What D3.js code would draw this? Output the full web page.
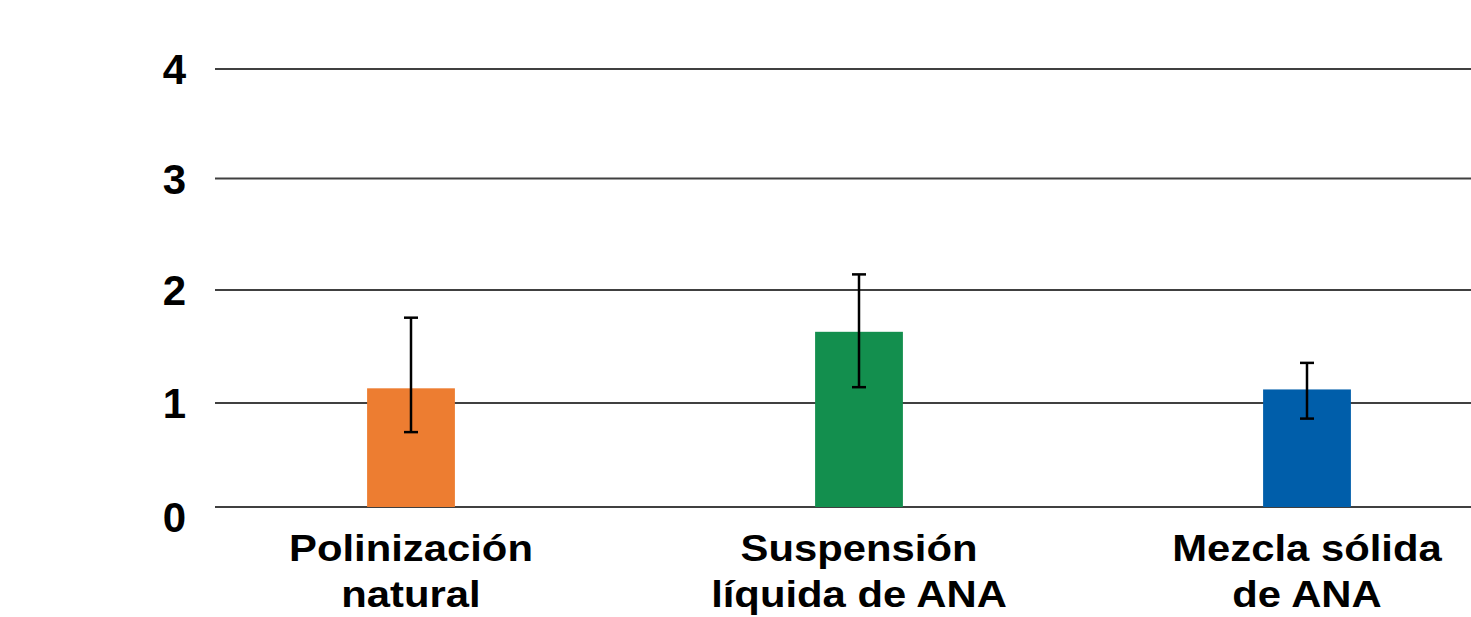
<!DOCTYPE html>
<html>
<head>
<meta charset="utf-8">
<script src="https://cdn.jsdelivr.net/npm/d3@7"></script>
<style>
    body { margin: 0; background: #fff; }
    #wrapper { width: 1471px; height: 617px; overflow: hidden; }
    text { font-family: "Liberation Sans", Arial, sans-serif; font-weight: bold; fill: #000; }
</style>
</head>
<body>
<div id="wrapper"></div>
<script>
// 1. Data
const categories = [['Polinización', 'natural'], ['Suspensión', 'líquida de ANA'], ['Mezcla sólida', 'de ANA']];
const values = [1.13, 1.63, 1.12];
const errUpper = [1.755, 2.14, 1.355];
const errLower = [0.72, 1.14, 0.85];
const barColors = ['#ed7d31', '#138f4e', '#005eaa'];
const yTicks = [0, 1, 2, 3, 4];

function drawChart() {
    const dataset = categories.map((c, i) => ({
        key: c.join(' '), lines: c, value: values[i],
        hi: errUpper[i], lo: errLower[i], color: barColors[i]
    }));

    // 2. Dimensions
    const dimensions = {
        width: 1471,
        height: 617,
        margin: { top: 69, right: 0, bottom: 110, left: 215 }
    };
    dimensions.boundedWidth = dimensions.width - dimensions.margin.left - dimensions.margin.right;
    dimensions.boundedHeight = dimensions.height - dimensions.margin.top - dimensions.margin.bottom;

    // 3. Canvas
    const wrapper = d3.select('#wrapper')
        .append('svg')
        .attr('width', dimensions.width)
        .attr('height', dimensions.height);
    const bounds = wrapper.append('g')
        .attr('transform', `translate(${dimensions.margin.left},${dimensions.margin.top})`);

    // 4. Scales (plot area runs a bit past the right edge, as in the source)
    const xScale = d3.scaleBand()
        .domain(dataset.map(d => d.key))
        .range([-28, 1316])
        .paddingInner(0.804)
        .paddingOuter(0.402);
    // source image is slightly uneven between gridlines
    const h = dimensions.boundedHeight;
    const yScale = d3.scaleLinear()
        .domain([0, 1, 2, 3, 4])
        .range([h, h - 104, h - 217, h - 328.5, 0]);

    // 5. Gridlines
    bounds.append('g')
        .selectAll('line')
        .data(yTicks)
        .join('line')
        .attr('x1', 0)
        .attr('x2', dimensions.boundedWidth)
        .attr('y1', d => yScale(d))
        .attr('y2', d => yScale(d))
        .attr('stroke', '#404040')
        .attr('stroke-width', 2);

    // y tick labels
    bounds.append('g')
        .selectAll('text')
        .data(yTicks)
        .join('text')
        .attr('x', -29)
        .attr('y', d => yScale(d) + (d === 0 ? 10 : 0))
        .attr('dy', '0.36em')
        .attr('text-anchor', 'end')
        .style('font-size', '42px')
        .text(d => d);

    // bars
    bounds.append('g')
        .selectAll('rect')
        .data(dataset)
        .join('rect')
        .attr('x', d => xScale(d.key))
        .attr('width', xScale.bandwidth())
        .attr('y', d => yScale(d.value))
        .attr('height', d => yScale(0) - yScale(d.value))
        .attr('fill', d => d.color);

    // error bars
    const errs = bounds.append('g')
        .attr('stroke', '#000')
        .attr('stroke-width', 2.5)
        .selectAll('g')
        .data(dataset)
        .join('g')
        .attr('transform', d => `translate(${xScale(d.key) + xScale.bandwidth() / 2},0)`);
    errs.append('line')
        .attr('y1', d => yScale(d.hi))
        .attr('y2', d => yScale(d.lo));
    errs.append('line')
        .attr('x1', -7).attr('x2', 7)
        .attr('y1', d => yScale(d.hi))
        .attr('y2', d => yScale(d.hi));
    errs.append('line')
        .attr('x1', -7).attr('x2', 7)
        .attr('y1', d => yScale(d.lo))
        .attr('y2', d => yScale(d.lo));

    // 6. Category labels
    const labels = bounds.append('g')
        .selectAll('text')
        .data(dataset)
        .join('text')
        .attr('transform', d => `translate(${xScale(d.key) + xScale.bandwidth() / 2},${dimensions.boundedHeight + 54}) scale(1.13,1)`)
        .attr('text-anchor', 'middle')
        .style('font-size', '37px');
    labels.selectAll('tspan')
        .data(d => d.lines)
        .join('tspan')
        .attr('x', 0)
        .attr('y', (d, i) => i * 46)
        .text(d => d);
}

drawChart();
</script>
</body>
</html>
